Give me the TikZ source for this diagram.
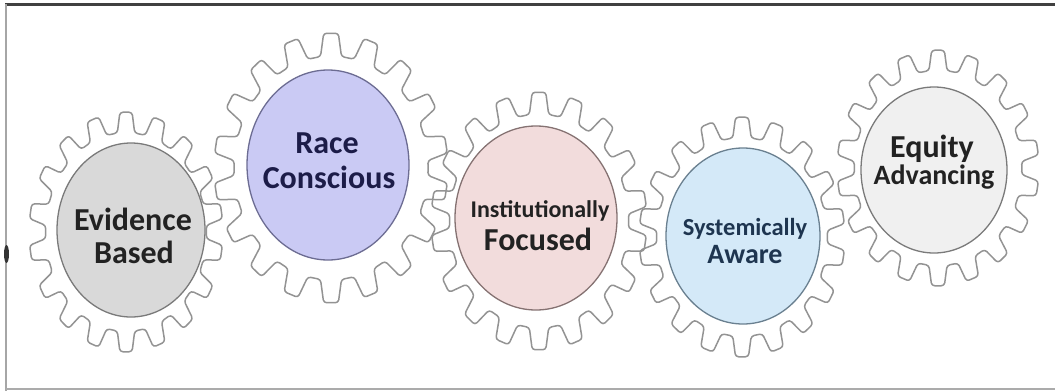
\documentclass[tikz,border=0pt]{standalone}
\usepackage{fontspec}
\setmainfont{Carlito}
\usetikzlibrary{shapes.geometric}
\definecolor{geargray}{HTML}{939393}
\definecolor{fillA}{HTML}{D9D9D9}
\definecolor{fillB}{HTML}{CACAF4}
\definecolor{fillC}{HTML}{F2DCDC}
\definecolor{fillD}{HTML}{D4E9F8}
\definecolor{fillE}{HTML}{F0F0F0}
\definecolor{txtA}{HTML}{222222}
\definecolor{txtB}{HTML}{1C1C48}
\definecolor{txtD}{HTML}{1E3550}
\definecolor{rimA}{HTML}{7A7A7A}
\definecolor{rimB}{HTML}{6C6C92}
\definecolor{rimC}{HTML}{857272}
\definecolor{rimD}{HTML}{6A8090}
\tikzset{
  gearline/.style={draw=geargray, line width=1.5pt, rounded corners=3pt, line join=round},
  gear/.pic={
    \draw[gearline] (0:0.83)
      \foreach \i in {0,...,17}{
        -- ({\i*20+10-6.2}:0.83) -- ({\i*20+10-3.6}:1) -- ({\i*20+10+3.6}:1) -- ({\i*20+10+6.2}:0.83)
      } -- cycle;
  },
  face/.style 2 args={ellipse, draw=#2, line width=1.3pt, fill=#1, inner sep=0pt},
  lbl/.style={anchor=base, inner sep=0pt}
}
\begin{document}
\begin{tikzpicture}[x=1pt,y=-1pt]
\useasboundingbox (0,0) rectangle (1055,391);
\fill[white] (0,0) rectangle (1055,391);
% frame
\draw[line width=3pt, color=black!75] (5,4) -- (1055,4);
\draw[line width=2pt, color=black!35] (6,4) -- (6,391);
\draw[line width=2pt, color=black!33] (6,389) -- (1055,389);
\fill[black!80] (6.5,254) ellipse [x radius=2.5, y radius=9];
% gears
\pic[xscale=97, yscale=120] at (126,232) {gear};
\pic[xscale=117, yscale=135] at (331,168) {gear};
\pic[xscale=108, yscale=129] at (539,221) {gear};
\pic[xscale=103, yscale=120] at (742,237) {gear};
\pic[xscale=101, yscale=118] at (938,168) {gear};
% faces
\node[face={fillA}{rimA}, minimum width=148pt, minimum height=174pt] (e1) at (131,230) {};
\node[face={fillB}{rimB}, minimum width=162pt, minimum height=190pt] (e2) at (328,165) {};
\node[face={fillC}{rimC}, minimum width=162pt, minimum height=184pt] (e3) at (536,218) {};
\node[face={fillD}{rimD}, minimum width=154pt, minimum height=176pt] (e4) at (743,236) {};
\node[face={fillE}{rimA}, minimum width=146pt, minimum height=166pt] (e5) at (934,170) {};
% labels
\node[lbl, text=txtA, font=\bfseries\fontsize{32}{32}\selectfont] (t1a) at (133,230) {Evidence};
\node[lbl, text=txtA, font=\bfseries\fontsize{32}{32}\selectfont] (t1b) at (134,263) {Based};
\node[lbl, text=txtB, font=\bfseries\fontsize{32}{32}\selectfont] (t2a) at (327,153) {Race};
\node[lbl, text=txtB, font=\bfseries\fontsize{32}{32}\selectfont] (t2b) at (329,188) {Conscious};
\node[lbl, text=txtA, font=\bfseries\fontsize{24}{24}\selectfont] (t3a) at (540,217) {Institutionally};
\node[lbl, text=txtA, font=\bfseries\fontsize{32}{32}\selectfont] (t3b) at (538,250) {Focused};
\node[lbl, text=txtD, font=\bfseries\fontsize{24.5}{24.5}\selectfont] (t4a) at (745,235) {Systemically};
\node[lbl, text=txtD, font=\bfseries\fontsize{28}{28}\selectfont] (t4b) at (745,263) {Aware};
\node[lbl, text=txtA, font=\bfseries\fontsize{32}{32}\selectfont] (t5a) at (932,157) {Equity};
\node[lbl, text=txtA, font=\bfseries\fontsize{28}{28}\selectfont] (t5b) at (934,184) {Advancing};
\end{tikzpicture}
\end{document}
